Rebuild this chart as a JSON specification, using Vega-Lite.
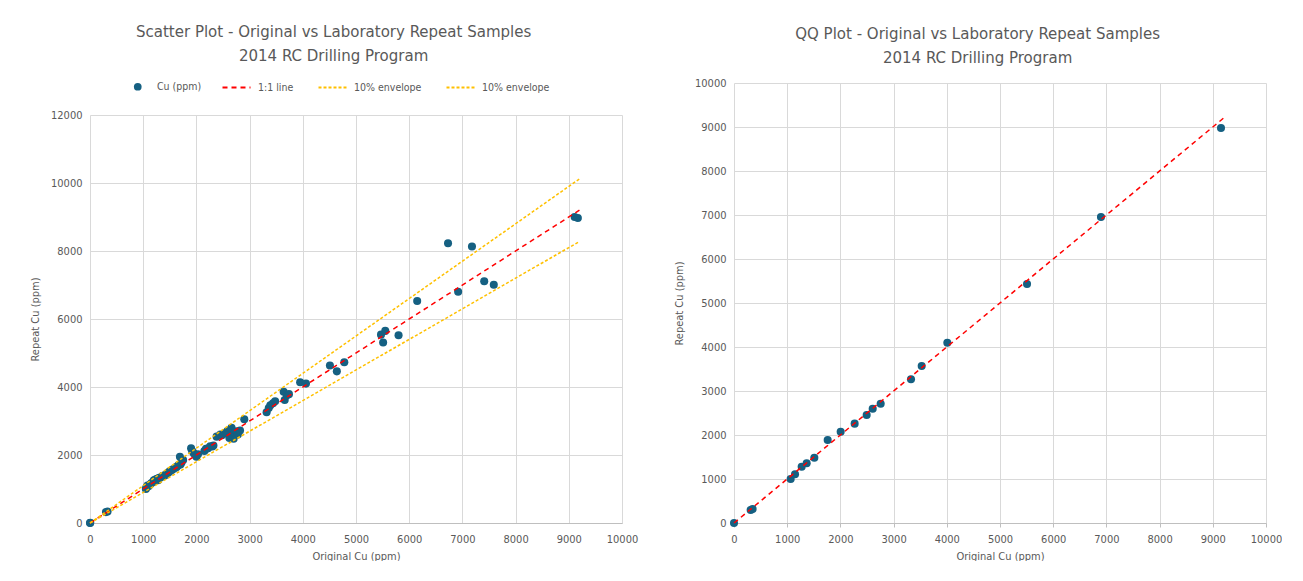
{
  "$schema": "https://vega.github.io/schema/vega-lite/v6.json",
  "background": "white",
  "padding": {"left": 29, "top": 24, "right": 0, "bottom": 0},
  "spacing": 35,
  "resolve": {"legend": {"color": "independent", "stroke": "independent", "strokeDash": "independent"}, "scale": {"color": "independent"}},
  "config": {
    "font": "Liberation Sans Narrow, DejaVu Sans Condensed, sans-serif",
    "view": {"stroke": null},
    "title": {"font": "Liberation Sans Narrow, DejaVu Sans Condensed, sans-serif", "fontSize": 16.7, "fontWeight": "normal", "color": "#595959", "lineHeight": 24, "frame": "bounds", "anchor": "middle", "offset": 10},
    "axis": {
      "labelFont": "Liberation Sans Narrow, DejaVu Sans Condensed, sans-serif",
      "labelFontSize": 11, "labelColor": "#595959", "format": "d",
      "titleFont": "Liberation Sans Narrow, DejaVu Sans Condensed, sans-serif",
      "titleFontSize": 11, "titleColor": "#595959", "titleFontWeight": "normal",
      "gridColor": "#d9d9d9", "gridWidth": 1,
      "domain": false, "ticks": false, "labelOverlap": false, "labelFlush": false, "labelPadding": 8, "titlePadding": 10
    },
    "axisX": {"domain": true, "domainColor": "#bfbfbf", "ticks": true, "tickColor": "#bfbfbf", "tickSize": 4, "labelPadding": 6, "titlePadding": 6},
    "legend": {
      "orient": "top", "direction": "horizontal", "title": null, "offset": -19,
      "labelFont": "Liberation Sans Narrow, DejaVu Sans Condensed, sans-serif",
      "labelFontSize": 10.5, "labelColor": "#595959", "columnPadding": 20, "labelOffset": 6,
      "layout": {"top": {"anchor": "middle", "direction": "horizontal", "margin": 10}}
    }
  },
  "datasets": {
    "scatter": [
      {"series": "Cu (ppm)", "orig": 0, "rep": 0}, {"series": "Cu (ppm)", "orig": 5, "rep": 10}, {"series": "Cu (ppm)", "orig": 300, "rep": 320}, {"series": "Cu (ppm)", "orig": 330, "rep": 340},
      {"series": "Cu (ppm)", "orig": 1050, "rep": 1000}, {"series": "Cu (ppm)", "orig": 1060, "rep": 1050}, {"series": "Cu (ppm)", "orig": 1080, "rep": 1100}, {"series": "Cu (ppm)", "orig": 1100, "rep": 1080},
      {"series": "Cu (ppm)", "orig": 1120, "rep": 1120}, {"series": "Cu (ppm)", "orig": 1150, "rep": 1170}, {"series": "Cu (ppm)", "orig": 1180, "rep": 1200}, {"series": "Cu (ppm)", "orig": 1200, "rep": 1260},
      {"series": "Cu (ppm)", "orig": 1230, "rep": 1280}, {"series": "Cu (ppm)", "orig": 1260, "rep": 1300}, {"series": "Cu (ppm)", "orig": 1280, "rep": 1260}, {"series": "Cu (ppm)", "orig": 1300, "rep": 1330},
      {"series": "Cu (ppm)", "orig": 1330, "rep": 1340}, {"series": "Cu (ppm)", "orig": 1360, "rep": 1380}, {"series": "Cu (ppm)", "orig": 1400, "rep": 1400}, {"series": "Cu (ppm)", "orig": 1430, "rep": 1420},
      {"series": "Cu (ppm)", "orig": 1460, "rep": 1470}, {"series": "Cu (ppm)", "orig": 1480, "rep": 1490}, {"series": "Cu (ppm)", "orig": 1500, "rep": 1520}, {"series": "Cu (ppm)", "orig": 1530, "rep": 1550},
      {"series": "Cu (ppm)", "orig": 1560, "rep": 1580}, {"series": "Cu (ppm)", "orig": 1600, "rep": 1620}, {"series": "Cu (ppm)", "orig": 1630, "rep": 1650}, {"series": "Cu (ppm)", "orig": 1660, "rep": 1700},
      {"series": "Cu (ppm)", "orig": 1700, "rep": 1720}, {"series": "Cu (ppm)", "orig": 1720, "rep": 1780}, {"series": "Cu (ppm)", "orig": 1750, "rep": 1850}, {"series": "Cu (ppm)", "orig": 1690, "rep": 1950},
      {"series": "Cu (ppm)", "orig": 1900, "rep": 2200}, {"series": "Cu (ppm)", "orig": 1920, "rep": 2120}, {"series": "Cu (ppm)", "orig": 1950, "rep": 2050}, {"series": "Cu (ppm)", "orig": 1980, "rep": 2000},
      {"series": "Cu (ppm)", "orig": 2000, "rep": 1950}, {"series": "Cu (ppm)", "orig": 2030, "rep": 2020}, {"series": "Cu (ppm)", "orig": 2150, "rep": 2120}, {"series": "Cu (ppm)", "orig": 2180, "rep": 2180},
      {"series": "Cu (ppm)", "orig": 2220, "rep": 2200}, {"series": "Cu (ppm)", "orig": 2260, "rep": 2260}, {"series": "Cu (ppm)", "orig": 2300, "rep": 2250}, {"series": "Cu (ppm)", "orig": 2320, "rep": 2280},
      {"series": "Cu (ppm)", "orig": 2380, "rep": 2540}, {"series": "Cu (ppm)", "orig": 2450, "rep": 2600}, {"series": "Cu (ppm)", "orig": 2480, "rep": 2580}, {"series": "Cu (ppm)", "orig": 2550, "rep": 2650},
      {"series": "Cu (ppm)", "orig": 2580, "rep": 2700}, {"series": "Cu (ppm)", "orig": 2600, "rep": 2620}, {"series": "Cu (ppm)", "orig": 2620, "rep": 2500}, {"series": "Cu (ppm)", "orig": 2640, "rep": 2750},
      {"series": "Cu (ppm)", "orig": 2660, "rep": 2800}, {"series": "Cu (ppm)", "orig": 2680, "rep": 2560}, {"series": "Cu (ppm)", "orig": 2700, "rep": 2480}, {"series": "Cu (ppm)", "orig": 2720, "rep": 2650},
      {"series": "Cu (ppm)", "orig": 2750, "rep": 2700}, {"series": "Cu (ppm)", "orig": 2780, "rep": 2600}, {"series": "Cu (ppm)", "orig": 2820, "rep": 2720}, {"series": "Cu (ppm)", "orig": 2900, "rep": 3050},
      {"series": "Cu (ppm)", "orig": 3320, "rep": 3260}, {"series": "Cu (ppm)", "orig": 3360, "rep": 3380}, {"series": "Cu (ppm)", "orig": 3390, "rep": 3460}, {"series": "Cu (ppm)", "orig": 3440, "rep": 3520},
      {"series": "Cu (ppm)", "orig": 3480, "rep": 3580}, {"series": "Cu (ppm)", "orig": 3640, "rep": 3860}, {"series": "Cu (ppm)", "orig": 3660, "rep": 3620}, {"series": "Cu (ppm)", "orig": 3700, "rep": 3760},
      {"series": "Cu (ppm)", "orig": 3740, "rep": 3790}, {"series": "Cu (ppm)", "orig": 3950, "rep": 4140}, {"series": "Cu (ppm)", "orig": 4060, "rep": 4100}, {"series": "Cu (ppm)", "orig": 4510, "rep": 4630},
      {"series": "Cu (ppm)", "orig": 4640, "rep": 4460}, {"series": "Cu (ppm)", "orig": 4780, "rep": 4730}, {"series": "Cu (ppm)", "orig": 5470, "rep": 5540}, {"series": "Cu (ppm)", "orig": 5550, "rep": 5650},
      {"series": "Cu (ppm)", "orig": 5510, "rep": 5310}, {"series": "Cu (ppm)", "orig": 5800, "rep": 5520}, {"series": "Cu (ppm)", "orig": 6150, "rep": 6530}, {"series": "Cu (ppm)", "orig": 6730, "rep": 8230},
      {"series": "Cu (ppm)", "orig": 7180, "rep": 8130}, {"series": "Cu (ppm)", "orig": 6920, "rep": 6800}, {"series": "Cu (ppm)", "orig": 7410, "rep": 7110}, {"series": "Cu (ppm)", "orig": 7590, "rep": 7010},
      {"series": "Cu (ppm)", "orig": 9110, "rep": 9000}, {"series": "Cu (ppm)", "orig": 9170, "rep": 8970}
    ],
    "lines": [
      {"series": "1:1 line", "orig": 0, "rep": 0}, {"series": "1:1 line", "orig": 9200, "rep": 9200},
      {"series": "10% envelope", "orig": 0, "rep": 0}, {"series": "10% envelope", "orig": 9200, "rep": 10120},
      {"series": "10% envelope ", "orig": 0, "rep": 0}, {"series": "10% envelope ", "orig": 9200, "rep": 8280}
    ],
    "qq": [
      {"orig": 0, "rep": 0}, {"orig": 313, "rep": 295}, {"orig": 350, "rep": 320}, {"orig": 1065, "rep": 1000},
      {"orig": 1147, "rep": 1106}, {"orig": 1272, "rep": 1280}, {"orig": 1366, "rep": 1356}, {"orig": 1510, "rep": 1485},
      {"orig": 1761, "rep": 1886}, {"orig": 2005, "rep": 2076}, {"orig": 2268, "rep": 2258}, {"orig": 2494, "rep": 2455},
      {"orig": 2607, "rep": 2598}, {"orig": 2757, "rep": 2712}, {"orig": 3327, "rep": 3265}, {"orig": 3528, "rep": 3568},
      {"orig": 4010, "rep": 4098}, {"orig": 5508, "rep": 5432}, {"orig": 6898, "rep": 6955}, {"orig": 9154, "rep": 8977}
    ],
    "qqline": [
      {"orig": 0, "rep": 0}, {"orig": 9200, "rep": 9200}
    ]
  },
  "hconcat": [
    {
      "title": {"text": ["Scatter Plot - Original vs Laboratory Repeat Samples", "2014 RC Drilling Program"], "offset": 7},
      "width": 532,
      "height": 440,
      "layer": [
        {
          "data": {"name": "scatter"},
          "mark": {"type": "point", "filled": true, "opacity": 1, "size": 65},
          "encoding": {
            "x": {"field": "orig", "type": "quantitative", "scale": {"domain": [0, 10000], "nice": false}, "axis": {"title": "Original Cu (ppm)", "values": [0,1000,2000,3000,4000,5000,6000,7000,8000,9000,10000], "grid": false, "ticks": true, "tickSize": -408, "tickColor": "#d9d9d9", "labelPadding": 418, "zindex": 0}},
            "y": {"field": "rep", "type": "quantitative", "scale": {"domain": [0, 12000], "nice": false, "range": [440, 32]}, "axis": {"title": "Repeat Cu (ppm)", "titleY": 236, "values": [0,2000,4000,6000,8000,10000,12000]}},
            "color": {"field": "series", "type": "nominal", "scale": {"domain": ["Cu (ppm)"], "range": ["#156082"]}, "legend": {"symbolSize": 60, "symbolType": "circle", "symbolOpacity": 1, "padding": 9.5, "labelOffset": 14}}
          }
        },
        {
          "data": {"name": "lines"},
          "mark": {"type": "line", "strokeWidth": 1.5},
          "encoding": {
            "x": {"field": "orig", "type": "quantitative"},
            "y": {"field": "rep", "type": "quantitative"},
            "stroke": {"field": "series", "type": "nominal", "scale": {"domain": ["1:1 line", "10% envelope", "10% envelope "], "range": ["#FF0000", "#FFC000", "#FFC000"]}, "legend": {"symbolSize": 784, "symbolStrokeWidth": 2.2, "symbolType": "stroke", "title": " ", "titleOrient": "right", "titlePadding": 40}},
            "strokeDash": {"field": "series", "type": "nominal", "scale": {"domain": ["1:1 line", "10% envelope", "10% envelope "], "range": [[5,4],[3,2],[3,2]]}, "legend": {"symbolSize": 784, "symbolStrokeWidth": 2.2, "symbolType": "stroke", "title": " ", "titleOrient": "right", "titlePadding": 40}}
          }
        }
      ]
    },
    {
      "title": {"text": ["QQ Plot - Original vs Laboratory Repeat Samples", "2014 RC Drilling Program"]},
      "width": 532,
      "height": 440,
      "layer": [
        {
          "data": {"name": "qq"},
          "mark": {"type": "point", "filled": true, "opacity": 1, "size": 65, "color": "#156082"},
          "encoding": {
            "x": {"field": "orig", "type": "quantitative", "scale": {"domain": [0, 10000], "nice": false}, "axis": {"title": "Original Cu (ppm)", "values": [0,1000,2000,3000,4000,5000,6000,7000,8000,9000,10000]}},
            "y": {"field": "rep", "type": "quantitative", "scale": {"domain": [0, 10000], "nice": false}, "axis": {"title": "Repeat Cu (ppm)", "values": [0,1000,2000,3000,4000,5000,6000,7000,8000,9000,10000]}}
          }
        },
        {
          "data": {"name": "qqline"},
          "mark": {"type": "line", "strokeWidth": 1.5, "color": "#FF0000", "strokeDash": [5,4]},
          "encoding": {
            "x": {"field": "orig", "type": "quantitative"},
            "y": {"field": "rep", "type": "quantitative"}
          }
        }
      ]
    }
  ]
}
